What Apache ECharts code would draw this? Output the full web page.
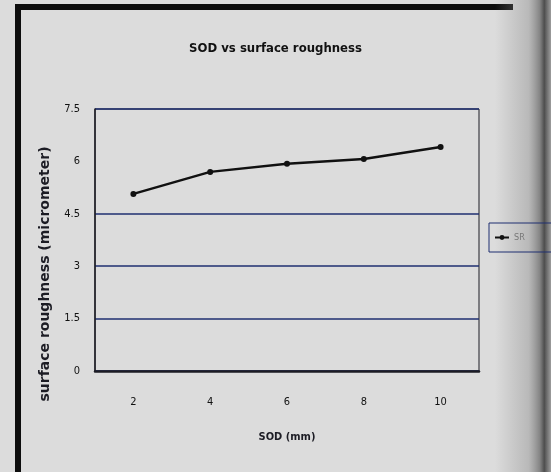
<!DOCTYPE html>
<html>
<head>
<meta charset="UTF-8">
<title>SOD vs surface roughness</title>
<script src="https://cdn.jsdelivr.net/npm/echarts@6/dist/echarts.min.js"></script>
<style>
  html, body { margin: 0; padding: 0; background: #dcdcdc; }
  #chart { width: 551px; height: 472px; }
</style>
</head>
<body>
<div id="chart"></div>
<script>
  // SOD (mm) vs surface roughness (micrometer)
  var sodLabels = ['2', '4', '6', '8', '10'];
  var roughness = [5.07, 5.70, 5.93, 6.07, 6.41];
  var seriesName = 'SR';

  var ink = '#1c1c24';
  var gridBlue = '#1f2f70';
  var font = '"Liberation Sans Narrow", "DejaVu Sans Condensed", "Liberation Sans", Arial, sans-serif';

  var chart = echarts.init(document.getElementById('chart'));
  chart.setOption({
    backgroundColor: '#dcdcdc',
    animation: false,
    title: {
      text: 'SOD vs surface roughness',
      left: 'center',
      top: 37,
      textStyle: { fontFamily: font, fontSize: 13, fontWeight: 'bold', color: '#111' }
    },
    legend: {
      left: 489, top: 223,
      padding: [10, 40, 10, 5],
      borderColor: gridBlue, borderWidth: 1,
      itemWidth: 14, itemHeight: 6, itemGap: 4,
      textStyle: { fontFamily: font, fontSize: 9, color: '#777' },
      data: [seriesName]
    },
    grid: { left: 95, right: 72, top: 109, bottom: 101, containLabel: false,
      show: true, borderColor: ink, borderWidth: 1, backgroundColor: 'transparent' },
    xAxis: {
      type: 'category',
      data: sodLabels,
      name: 'SOD (mm)',
      nameLocation: 'middle',
      nameGap: 61,
      nameTextStyle: { fontFamily: font, fontSize: 11, fontWeight: 'bold', color: ink },
      axisLine: { lineStyle: { color: ink, width: 2.5 } },
      axisTick: { show: false },
      axisLabel: { fontFamily: font, fontSize: 11, color: '#111', margin: 26 }
    },
    yAxis: {
      type: 'value',
      min: 0, max: 7.5, interval: 1.5,
      name: 'surface roughness (micrometer)',
      nameLocation: 'middle',
      nameGap: 43,
      nameTextStyle: { fontFamily: '"DejaVu Sans", sans-serif', fontSize: 14, fontWeight: 'bold',
        color: ink, padding: [0, 68, 0, 0] },
      axisLine: { show: true, lineStyle: { color: ink, width: 1.5 } },
      axisTick: { show: false },
      axisLabel: { fontFamily: font, fontSize: 11, color: '#111', margin: 15,
        formatter: function (v) { return String(v); } },
      splitLine: { show: true,
        lineStyle: { color: [gridBlue, gridBlue, gridBlue, gridBlue, 'rgba(0,0,0,0)', gridBlue], width: 1.5 } }
    },
    series: [{
      name: seriesName,
      type: 'line',
      data: roughness,
      symbol: 'circle',
      symbolSize: 6,
      lineStyle: { color: '#111', width: 2.5 },
      itemStyle: { color: '#111' }
    }],
    graphic: [
      // scanned page frame and shaded edge
      { type: 'rect', shape: { x: 15, y: 4, width: 498, height: 6 }, style: { fill: '#0d0d0d' } },
      { type: 'rect', shape: { x: 15, y: 4, width: 6, height: 468 }, style: { fill: '#0d0d0d' } },
      { type: 'rect', silent: true, shape: { x: 495, y: 0, width: 56, height: 472 },
        style: { fill: new echarts.graphic.LinearGradient(0, 0, 1, 0, [
          { offset: 0, color: 'rgba(150,150,150,0)' },
          { offset: 0.6, color: 'rgba(150,150,150,0.5)' },
          { offset: 0.8, color: 'rgba(110,110,110,0.8)' },
          { offset: 0.88, color: 'rgba(70,70,70,0.95)' },
          { offset: 1, color: 'rgba(150,150,150,0.9)' }
        ]) } }
    ]
  });
</script>
</body>
</html>
